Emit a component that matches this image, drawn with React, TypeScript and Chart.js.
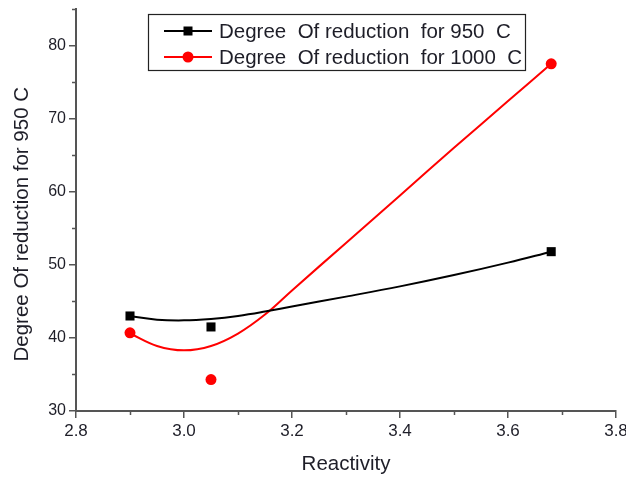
import React, { useEffect, useRef } from "react";
import { Chart, registerables } from "chart.js";

Chart.register(...registerables);

// ---- data ----
const reactivity = [2.9, 3.05, 3.68];
const reduction950 = [43.0, 41.5, 51.8];
const reduction1000 = [40.7, 34.3, 77.5];

// smoothed fit curves
const fit950X = [2.9, 2.95, 3.0, 3.05, 3.1, 3.15, 3.2, 3.3, 3.4, 3.5, 3.6, 3.68];
const fit950Y = [43.0, 42.5, 42.4, 42.6, 43.0, 43.6, 44.3, 45.65, 47.05, 48.6, 50.3, 51.8];
const fit1000X = [2.9, 2.95, 3.0, 3.05, 3.1, 3.15, 3.2, 3.3, 3.4, 3.5, 3.6, 3.68];
const fit1000Y = [40.6, 38.9, 38.3, 38.9, 40.6, 43.2, 46.5, 53.0, 59.5, 66.0, 72.4, 77.5];

const label950 = "Degree  Of reduction  for 950  C";
const label1000 = "Degree  Of reduction  for 1000  C";
const xTitle = "Reactivity";
const yTitle = "Degree Of reduction for 950 C";

const xMinorTicks = [2.9, 3.1, 3.3, 3.5, 3.7];
const yMinorTicks = [35, 45, 55, 65, 75, 85];

const FONT = "'Liberation Sans', Arial, sans-serif";
const AXIS = "#555555";
const TEXT = "#1e1e28";

const toPts = (xs: number[], ys: number[]) => xs.map((x, i) => ({ x, y: ys[i] }));

const minorTicksPlugin = {
  id: "minorTicks",
  afterDraw(chart: any) {
    const { ctx, scales } = chart;
    const xs = scales.x;
    const ys = scales.y;
    ctx.save();
    ctx.strokeStyle = AXIS;
    ctx.lineWidth = 1.5;
    ctx.beginPath();
    xMinorTicks.forEach((v) => {
      const px = Math.round(xs.getPixelForValue(v)) + 0.5;
      ctx.moveTo(px, xs.top);
      ctx.lineTo(px, xs.top + 4);
    });
    yMinorTicks.forEach((v) => {
      const py = Math.round(ys.getPixelForValue(v)) + 0.5;
      ctx.moveTo(ys.right, py);
      ctx.lineTo(ys.right - 4, py);
    });
    ctx.stroke();
    ctx.restore();
  },
};

const boxLegendPlugin = {
  id: "boxLegend",
  afterDraw(chart: any) {
    const ctx = chart.ctx;
    const items = chart.data.datasets.filter((d: any) => d.inLegend);
    const bx = 148, by = 14, bw = 377, bh = 56;
    ctx.save();
    ctx.fillStyle = "#ffffff";
    ctx.fillRect(bx, by, bw, bh);
    ctx.strokeStyle = "#222";
    ctx.lineWidth = 1.2;
    ctx.strokeRect(bx + 0.5, by + 0.5, bw, bh);
    items.forEach((d: any, i: number) => {
      const cy = by + 17 + i * 26;
      ctx.strokeStyle = d.borderColor;
      ctx.lineWidth = 2;
      ctx.beginPath();
      ctx.moveTo(164, cy);
      ctx.lineTo(212, cy);
      ctx.stroke();
      ctx.fillStyle = d.backgroundColor;
      if (d.pointStyle === "rect") {
        ctx.fillRect(188 - 4.5, cy - 4.5, 9, 9);
      } else {
        ctx.beginPath();
        ctx.arc(188, cy, 5.5, 0, Math.PI * 2);
        ctx.fill();
      }
      ctx.fillStyle = TEXT;
      ctx.font = `20.5px ${FONT}`;
      ctx.textBaseline = "middle";
      ctx.textAlign = "left";
      ctx.fillText(d.label, 219, cy + 1);
    });
    ctx.restore();
  },
};

export default function App() {
  const ref = useRef<HTMLCanvasElement | null>(null);

  useEffect(() => {
    if (!ref.current) return;
    const chart = new Chart(ref.current, {
      type: "scatter",
      data: {
        datasets: [
          {
            label: "fit950",
            data: toPts(fit950X, fit950Y),
            showLine: true,
            borderColor: "#000000",
            borderWidth: 2,
            pointRadius: 0,
            tension: 0.4,
          } as any,
          {
            label: "fit1000",
            data: toPts(fit1000X, fit1000Y),
            showLine: true,
            borderColor: "#ff0000",
            borderWidth: 2,
            pointRadius: 0,
            tension: 0.4,
          } as any,
          {
            label: label950,
            inLegend: true,
            data: toPts(reactivity, reduction950),
            showLine: false,
            pointStyle: "rect",
            pointRadius: 6.4,
            borderColor: "#000000",
            backgroundColor: "#000000",
            borderWidth: 0,
          } as any,
          {
            label: label1000,
            inLegend: true,
            data: toPts(reactivity, reduction1000),
            showLine: false,
            pointStyle: "circle",
            pointRadius: 5.5,
            borderColor: "#ff0000",
            backgroundColor: "#ff0000",
            borderWidth: 0,
          } as any,
        ],
      },
      options: {
        responsive: false,
        animation: false,
        layout: { padding: { top: 9, right: 10, left: 0, bottom: 0 } },
        plugins: {
          legend: { display: false },
          tooltip: { enabled: false },
        },
        scales: {
          x: {
            type: "linear",
            min: 2.8,
            max: 3.8,
            ticks: {
              stepSize: 0.2,
              includeBounds: false,
              color: TEXT,
              font: { family: FONT, size: 17 },
              padding: 3,
              maxRotation: 0,
              callback: (v: any) => Number(v).toFixed(1),
            },
            grid: {
              drawOnChartArea: false,
              drawTicks: true,
              tickLength: 7,
              color: AXIS,
              lineWidth: 1.5,
            },
            border: { display: true, color: AXIS, width: 2 },
            title: {
              display: true,
              text: xTitle,
              color: TEXT,
              font: { family: FONT, size: 20.5 },
              padding: { top: 0, bottom: 0 },
            },
            afterFit: (s: any) => {
              s.height = 66;
              s.paddingLeft = 0;
              s.paddingRight = 0;
            },
          },
          y: {
            type: "linear",
            min: 30,
            max: 85,
            ticks: {
              stepSize: 10,
              includeBounds: false,
              color: TEXT,
              font: { family: FONT, size: 16 },
              padding: 3,
            },
            grid: {
              drawOnChartArea: false,
              drawTicks: true,
              tickLength: 7,
              color: AXIS,
              lineWidth: 1.5,
            },
            border: { display: true, color: AXIS, width: 2 },
            title: {
              display: true,
              text: yTitle + "     ",
              color: TEXT,
              font: { family: FONT, size: 20.5 },
              padding: { top: 10, bottom: 0 },
            },
            afterFit: (s: any) => {
              s.width = 76;
              s.paddingTop = 0;
              s.paddingBottom = 0;
            },
          },
        },
      } as any,
      plugins: [minorTicksPlugin, boxLegendPlugin],
    });
    return () => chart.destroy();
  }, []);

  return (
    <div style={{ position: "absolute", left: 0, top: 0, width: 626, height: 477, background: "#fff" }}>
      <canvas ref={ref} width={626} height={477} style={{ display: "block" }} />
    </div>
  );
}
